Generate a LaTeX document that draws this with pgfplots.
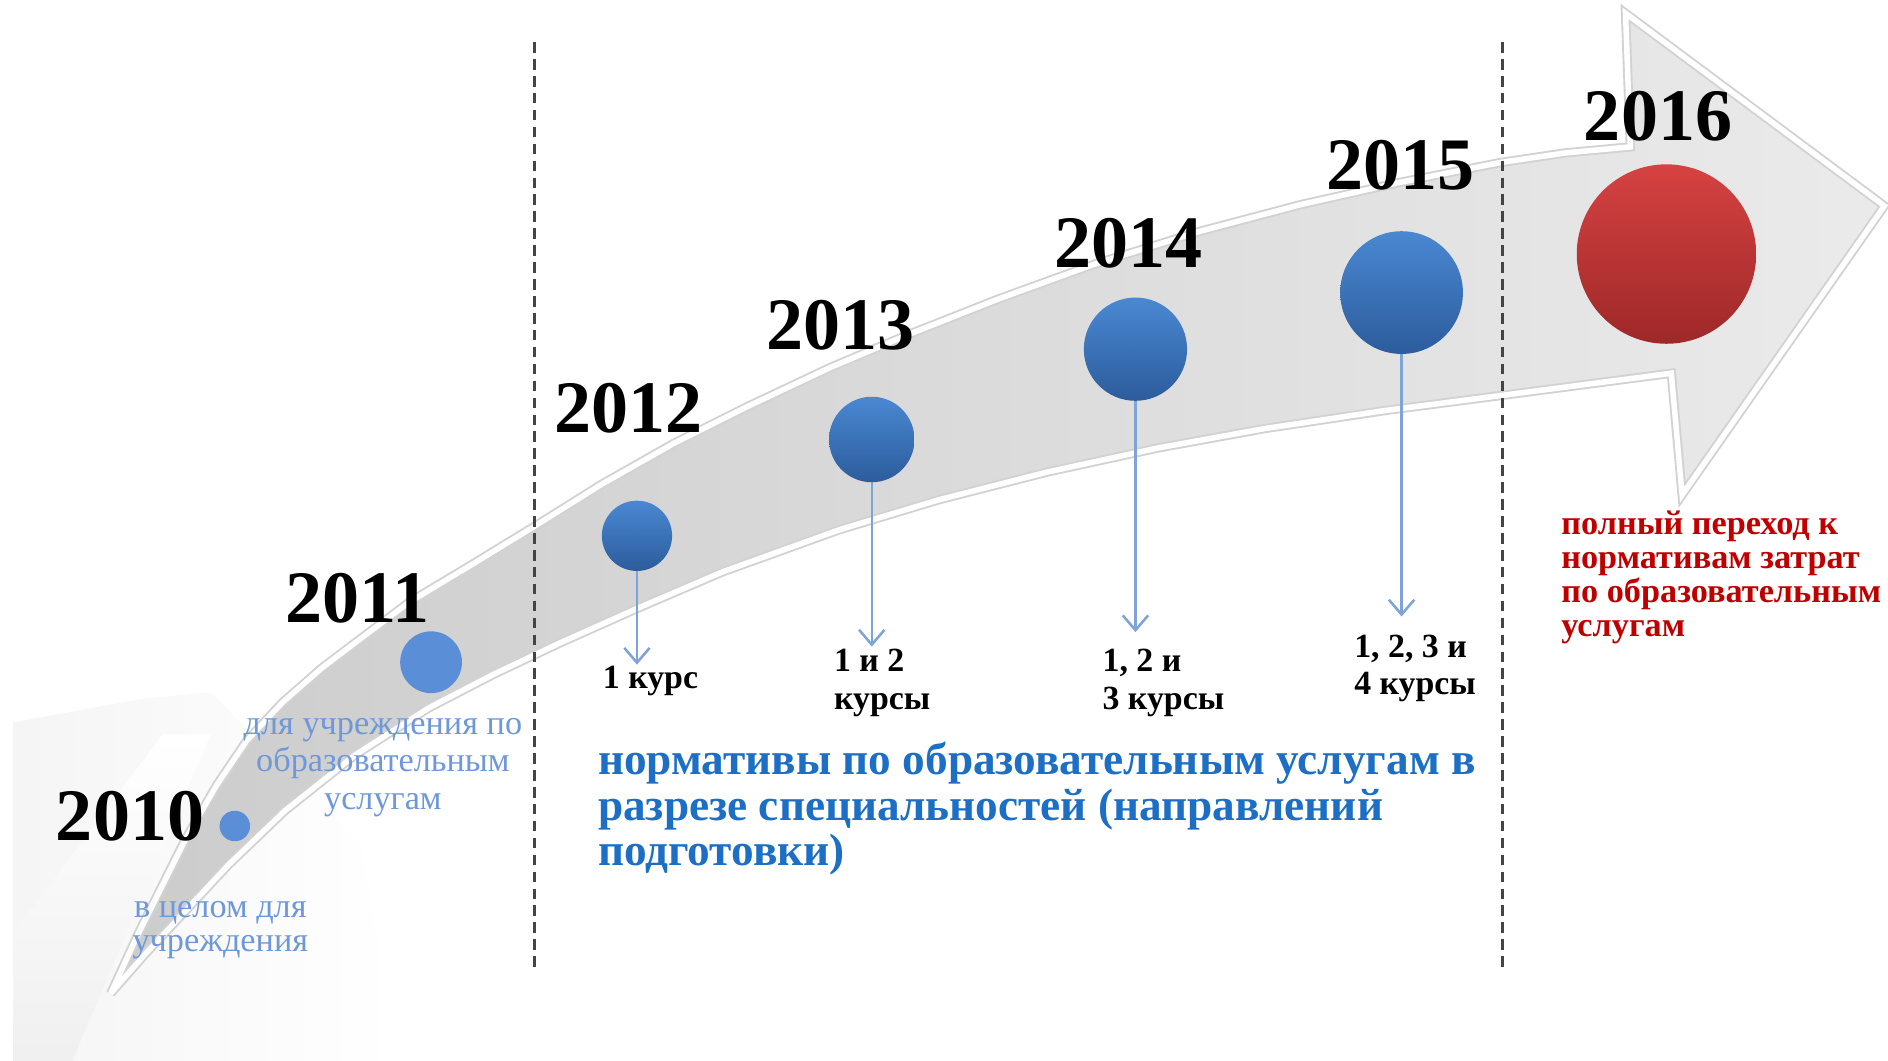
\documentclass[border=0pt]{standalone}
\usepackage{fontspec}
\setmainfont{Liberation Serif}
\usepackage{pgfplots}
\pgfplotsset{compat=1.18}
\usetikzlibrary{arrows.meta}
\definecolor{flatblue}{HTML}{5A8ED6}
\definecolor{btop}{HTML}{4A88D2}
\definecolor{bbot}{HTML}{2C5C9C}
\definecolor{rtop}{HTML}{D64242}
\definecolor{rbot}{HTML}{9E2828}
\definecolor{arrowblue}{HTML}{7EA3D6}
\definecolor{capblue}{HTML}{6E98D9}
\definecolor{mainblue}{HTML}{1C6FC4}
\definecolor{redtext}{HTML}{C00000}
\definecolor{dashline}{HTML}{444444}
\begin{document}
\begin{tikzpicture}
\useasboundingbox (0,0) rectangle (15.68cm,8.81cm);
\begin{axis}[at={(0,0)}, anchor=south west, scale only axis,
  width=15.68cm, height=8.81cm, xmin=0, xmax=1568, ymin=0, ymax=881,
  y dir=reverse, hide axis, clip=false]

% faint background shapes (lower left)
\addplot[draw=none, left color=gray!8, right color=white] coordinates {(11,881) (11,600) (120,580) (175,575) (300,700) (330,881) (11,881)};
\addplot[draw=none, top color=white, bottom color=gray!12] coordinates {(11,845) (11,775) (135,610) (175,610) (60,881) (11,881)};

% big curved arrow band
\addplot[draw=gray!35, line width=2.2pt, left color=gray!40, right color=gray!16] coordinates {
(92,825) (115,775) (135,735) (154,697) (180,652) (205,615) (235,583) (267,555)
(300,530) (340,500) (390,470) (444,437) (500,402) (560,368) (620,338) (690,305)
(754,278) (830,248) (910,219) (997,192) (1080,170) (1160,152) (1246,135) (1300,127)
(1354,122) (1350,11) (1565,171) (1397,411) (1388,310)
(1258,327) (1150,341) (1050,356) (962,372) (870,392) (780,415) (697,440) (600,475)
(530,505) (465,534) (410,560) (356,588) (295,627) (237,673) (190,718) (148,763)
(120,793) (92,825)};
\addplot[draw=white, line width=1.3pt] coordinates {
(92,825) (115,775) (135,735) (154,697) (180,652) (205,615) (235,583) (267,555)
(300,530) (340,500) (390,470) (444,437) (500,402) (560,368) (620,338) (690,305)
(754,278) (830,248) (910,219) (997,192) (1080,170) (1160,152) (1246,135) (1300,127)
(1354,122) (1350,11) (1565,171) (1397,411) (1388,310)
(1258,327) (1150,341) (1050,356) (962,372) (870,392) (780,415) (697,440) (600,475)
(530,505) (465,534) (410,560) (356,588) (295,627) (237,673) (190,718) (148,763)
(120,793) (92,825)};

% dashed separators
\addplot[dashline, line width=0.7pt, dash pattern=on 2.5pt off 1.5pt] coordinates {(444,35) (444,808)};
\addplot[dashline, line width=0.7pt, dash pattern=on 2.5pt off 1.5pt] coordinates {(1248,35) (1248,808)};

% arrows from circles
\addplot[arrowblue, line width=0.6pt, -{Straight Barb[length=3.5pt,width=6pt]}] coordinates {(529,472) (529,552)};
\addplot[arrowblue, line width=0.6pt, -{Straight Barb[length=3.5pt,width=6pt]}] coordinates {(724,398) (724,537)};
\addplot[arrowblue, line width=0.6pt, -{Straight Barb[length=3.5pt,width=6pt]}] coordinates {(943,330) (943,525)};
\addplot[arrowblue, line width=0.6pt, -{Straight Barb[length=3.5pt,width=6pt]}] coordinates {(1164,292) (1164,512)};

% circles
\addplot[only marks, mark=*, mark size=3.4pt, color=flatblue] coordinates {(195,686)};
\addplot[only marks, mark=*, mark size=7.1pt, color=flatblue] coordinates {(358,550)};
\addplot[scatter, only marks, mark=*, mark size=0pt, mark options={draw=none, fill=none}, point meta=y,
  visualization depends on={value \thisrow{r} \as \rr},
  scatter/@pre marker code/.code={\begingroup\pgfkeys{/pgf/fpu=false}\shade[draw=none, top color=btop, bottom color=bbot] (0pt,0pt) circle[radius=\rr pt];\endgroup},
  scatter/@post marker code/.code={}] table {
x y r
529 445 8.3
724 365 10.1
943 290 12.2
1164 243 14.5
};
\addplot[scatter, only marks, mark=*, mark size=0pt, mark options={draw=none, fill=none}, point meta=y,
  visualization depends on={value \thisrow{r} \as \rr},
  scatter/@pre marker code/.code={\begingroup\pgfkeys{/pgf/fpu=false}\shade[draw=none, top color=rtop, bottom color=rbot] (0pt,0pt) circle[radius=\rr pt];\endgroup},
  scatter/@post marker code/.code={}] table {
x y r
1384 211 21.2
};

% year labels
\begin{scope}[every node/.style={anchor=base, font=\fontsize{17.5}{17.5}\selectfont\bfseries}]
\node at (axis cs:108,698) {2010};
\node at (axis cs:297,517) {2011};
\node at (axis cs:522,359) {2012};
\node at (axis cs:698,290) {2013};
\node at (axis cs:937,222) {2014};
\node at (axis cs:1163,157) {2015};
\node at (axis cs:1377,117) {2016};
\end{scope}

% captions (anchor = baseline of the last line)
\node[anchor=base, align=center, text=capblue, font=\fontsize{8.1}{8}\selectfont, inner sep=0pt] at (axis cs:183,790) {в целом для\\учреждения};
\node[anchor=base, align=center, text=capblue, font=\fontsize{8.1}{8.8}\selectfont, inner sep=0pt] at (axis cs:318,672) {для учреждения по\\образовательным\\услугам};

\node[anchor=base west, align=left, font=\fontsize{8}{8.8}\selectfont\bfseries, inner sep=0pt] at (axis cs:500,572) {1 курс};
\node[anchor=base west, align=left, font=\fontsize{8}{8.8}\selectfont\bfseries, inner sep=0pt] at (axis cs:692,589) {1 и 2\\курсы};
\node[anchor=base west, align=left, font=\fontsize{8}{8.8}\selectfont\bfseries, inner sep=0pt] at (axis cs:915,589) {1, 2 и\\3 курсы};
\node[anchor=base west, align=left, font=\fontsize{8}{8.8}\selectfont\bfseries, inner sep=0pt] at (axis cs:1124,577) {1, 2, 3 и\\4 курсы};

\node[anchor=base west, align=left, text=mainblue, font=\fontsize{10.7}{10.8}\selectfont\bfseries, inner sep=0pt] at (axis cs:496,719) {нормативы по образовательным услугам в\\разрезе специальностей (направлений\\подготовки)};

\node[anchor=base west, align=left, text=redtext, font=\fontsize{8.1}{8.1}\selectfont\bfseries, inner sep=0pt] at (axis cs:1296,529) {полный переход к\\нормативам затрат\\по образовательным\\услугам};

\end{axis}
\end{tikzpicture}
\end{document}
